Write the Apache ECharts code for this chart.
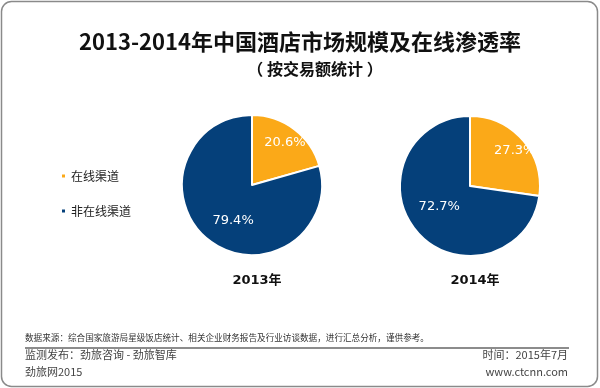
<!DOCTYPE html>
<html>
<head>
<meta charset="utf-8">
<script src="https://cdn.jsdelivr.net/npm/echarts@6/dist/echarts.min.js"></script>
<style>html,body{margin:0;padding:0;background:#fff;}#c{width:600px;height:388px;}</style>
</head>
<body>
<div id="c"></div>
<script>
var years = ['2013年', '2014年'];
var channels = ['在线渠道', '非在线渠道'];
var online = [20.6, 27.3];
var offline = [79.4, 72.7];
var titleText = '2013-2014年中国酒店市场规模及在线渗透率';
var subtitleText = '（ 按交易额统计 ）';
var sourceText = '数据来源：综合国家旅游局星级饭店统计、相关企业财务报告及行业访谈数据，进行汇总分析，谨供参考。';
var footLeft = ['监测发布：劲旅咨询 - 劲旅智库', '劲旅网2015'];
var footRight = ['时间：2015年7月', 'www.ctcnn.com'];

var ORANGE = '#FBA918', NAVY = '#05407A';
var CJK = '"Noto Sans CJK SC", sans-serif';
var LAT = '"DejaVu Sans", "Noto Sans CJK SC", sans-serif';

var centers = [[252, 185], [470, 186]];
var labelOffsets = [
  [[10, -12], [4, 5]],
  [[16, -11], [-2, -4]]
];

var chart = echarts.init(document.getElementById('c'), null, {renderer: 'canvas'});

var titles = [
  {text: titleText, left: 'center', top: 26, textStyle: {fontFamily: CJK, fontSize: 22, fontWeight: 'bold', color: '#111'}},
  {text: subtitleText, left: 310, textAlign: 'center', top: 56, textStyle: {fontFamily: CJK, fontSize: 16, fontWeight: 'bold', color: '#111'}}
];
years.forEach(function (y, i) {
  titles.push({text: y, left: centers[i][0], textAlign: 'center', top: 269, textStyle: {fontFamily: LAT, fontSize: 13, fontWeight: 'bold', color: '#111'}});
});

var series = years.map(function (y, i) {
  return {
    type: 'pie',
    name: y,
    radius: 70,
    center: centers[i],
    startAngle: 90,
    clockwise: true,
    silent: true,
    animation: false,
    itemStyle: {borderColor: '#fff', borderWidth: 2},
    label: {show: true, position: 'inside', color: '#fff', fontSize: 13, fontFamily: LAT,
      formatter: function (p) { return p.value.toFixed(1) + '%'; }},
    labelLine: {show: false},
    data: [
      {name: channels[0], value: online[i], itemStyle: {color: ORANGE}, label: {offset: labelOffsets[i][0]}},
      {name: channels[1], value: offline[i], itemStyle: {color: NAVY}, label: {offset: labelOffsets[i][1]}}
    ]
  };
});

chart.setOption({
  animation: false,
  title: titles,
  legend: {
    orient: 'vertical', left: 55, top: 165,
    icon: 'rect', itemWidth: 5, itemHeight: 5, itemGap: 23,
    selectedMode: false,
    data: channels,
    textStyle: {fontFamily: CJK, fontSize: 12, color: '#222', padding: [0, 0, 0, 0]}
  },
  series: series,
  graphic: [
    {type: 'rect', shape: {x: 1.5, y: 1.5, width: 596, height: 385, r: 10}, style: {fill: 'none', stroke: '#8a8a8a', lineWidth: 1.5}, silent: true},
    {type: 'text', left: 25, top: 333, style: {text: sourceText, font: '8.6px ' + CJK, fill: '#333'}},
    {type: 'line', shape: {x1: 25, y1: 348, x2: 569, y2: 348}, style: {stroke: '#666', lineWidth: 1.5}},
    {type: 'text', left: 25, top: 349, style: {text: footLeft[0], font: '11px ' + CJK, fill: '#444'}},
    {type: 'text', left: 25, top: 366, style: {text: footLeft[1], font: '11px ' + CJK, fill: '#444'}},
    {type: 'text', right: 32, top: 349, style: {text: footRight[0], font: '11px ' + CJK, fill: '#444'}},
    {type: 'text', right: 32, top: 366, style: {text: footRight[1], font: '11px ' + CJK, fill: '#444'}}
  ]
});
</script>
</body>
</html>
